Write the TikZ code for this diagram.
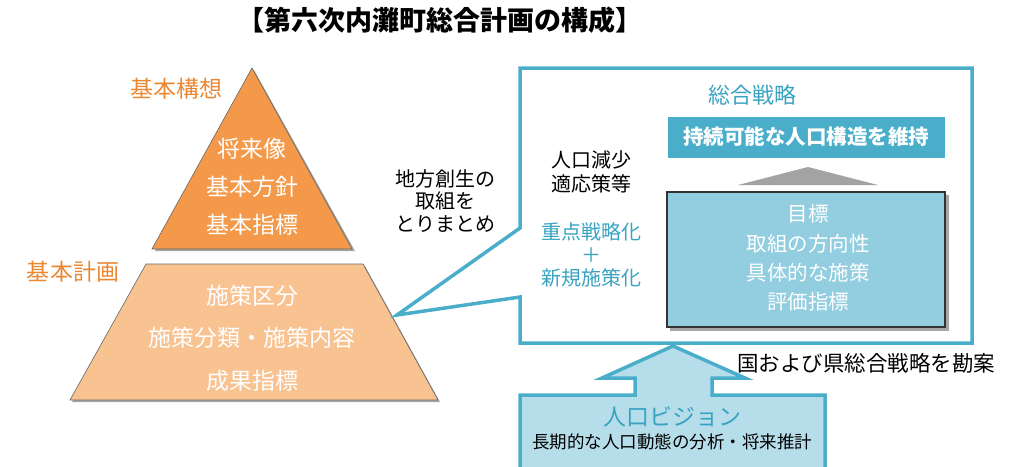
\documentclass[tikz,border=0pt]{standalone}
\usepackage{fontspec}
\setmainfont{Noto Sans CJK JP}
\usetikzlibrary{calc}
\definecolor{orDark}{HTML}{F4994A}
\definecolor{orLight}{HTML}{F9C291}
\definecolor{orLabel}{HTML}{EA8733}
\definecolor{teal}{HTML}{4AAECB}
\definecolor{tealText}{HTML}{3AA3C2}
\definecolor{boxFill}{HTML}{93CDE0}
\definecolor{visFill}{HTML}{B6DEEA}
\definecolor{grayTri}{HTML}{A3A3A3}
\tikzset{
  fs/.style={font=\fontsize{#1}{#1}\selectfont},
  txt/.style={inner sep=0pt, align=center},
  wtxt/.style={txt, text=white},
  shade/.style={fill=black!35},
}
\begin{document}
\begin{tikzpicture}[x=1pt,y=-1pt]
\useasboundingbox (0,0) rectangle (1011,466);
% title
\node[txt, font=\fontsize{27}{27}\selectfont\bfseries] (title) at (440,20) {【第六次内灘町総合計画の構成】};
% pyramid top
\fill[shade] (254,70) -- (355,251) -- (155,251) -- cycle;
\draw[fill=orDark, draw=black!60, line width=0.6pt] (252,68) -- (352,249) -- (152,249) -- cycle;
% pyramid bottom
\fill[shade] (148,266) -- (365,266) -- (440,402) -- (72,402) -- cycle;
\draw[fill=orLight, draw=black!60, line width=0.6pt] (146,264) -- (363,264) -- (438,400) -- (70,400) -- cycle;
\node[txt, text=orLabel, font=\fontsize{23}{23}\selectfont] (kousou) at (176,89) {基本構想};
\node[txt, text=orLabel, font=\fontsize{23}{23}\selectfont] (keikaku) at (73,272) {基本計画};
\node[wtxt, font=\fontsize{23}{38}\selectfont] (toptext) at (252,187) {将来像\\基本方針\\基本指標};
\node[wtxt, font=\fontsize{23}{42.5}\selectfont] (bottext) at (252,338) {施策区分\\施策分類・施策内容\\成果指標};
% callout
\draw[teal, line width=3.5pt, fill=white, line join=miter]
  (520,68) -- (972,68) -- (972,343) -- (520,343) -- (520,297) -- (397,315) -- (520,228) -- cycle;
\node[txt, font=\fontsize{20}{22.5}\selectfont] (chihou) at (445,201) {地方創生の\\取組を\\とりまとめ};
\node[txt, text=tealText, font=\fontsize{22}{22}\selectfont] (sougou) at (752,95) {総合戦略};
\node[fill=teal, minimum width=277pt, minimum height=41pt, inner sep=0pt, text=white, font=\fontsize{20.5}{20.5}\selectfont\bfseries] (banner) at (806,137) {持続可能な人口構造を維持};
\fill[grayTri] (808,167) -- (878,185) -- (738,185) -- cycle;
\fill[shade] (670,195) rectangle (949,331);
\node[fill=boxFill, draw=black!80, line width=1.2pt, minimum width=278pt, minimum height=135pt, inner sep=0pt] (mokuhyo) at (806,259.5) {};
\node[wtxt, font=\fontsize{20.5}{29.3}\selectfont] (mokutext) at (808,258) {目標\\取組の方向性\\具体的な施策\\評価指標};
\node[txt, font=\fontsize{20}{24}\selectfont] (genshou) at (591,172) {人口減少\\適応策等};
\node[txt, text=tealText, font=\fontsize{20}{23}\selectfont] (juten) at (591,255) {重点戦略化\\＋\\新規施策化};
\node[txt, font=\fontsize{21.5}{21.5}\selectfont] (kuni) at (866,363) {国および県総合戦略を勘案};
% vision arrow + box
\draw[teal, line width=3.5pt, fill=visFill, line join=miter]
  (520,475) -- (520,395) -- (635,395) -- (635,378) -- (602,378) -- (673,346) -- (745,378) -- (712,378) -- (712,395) -- (825,395) -- (825,475);
\node[txt, text=tealText, font=\fontsize{23}{23}\selectfont] (vision) at (672,417) {人口ビジョン};
\node[txt, font=\fontsize{17.5}{17.5}\selectfont] (bunseki) at (672,442) {長期的な人口動態の分析・将来推計};
\end{tikzpicture}
\end{document}
